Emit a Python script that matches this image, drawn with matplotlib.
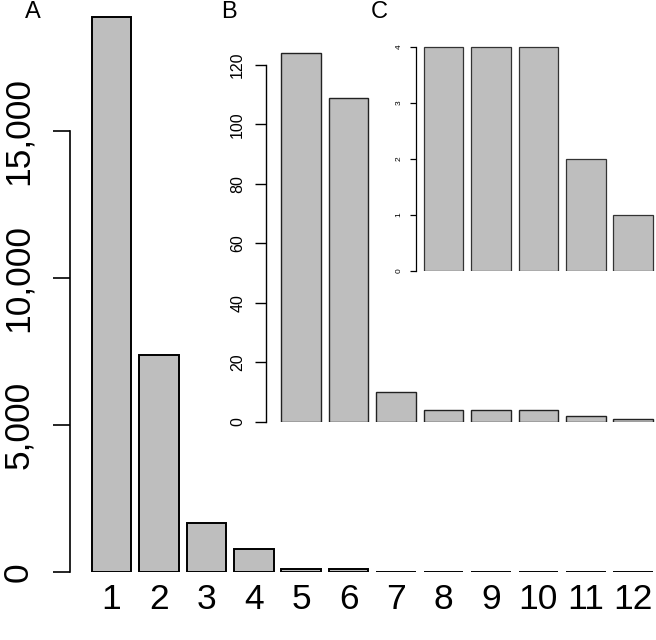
import numpy as np
import matplotlib
matplotlib.use("Agg")
import matplotlib.pyplot as plt

plt.rcParams['font.family'] = ['Liberation Sans', 'DejaVu Sans']

# counts per category
cats = np.arange(1, 13)
counts = [18850, 7380, 1685, 792, 124, 109, 10, 4, 4, 4, 2, 1]

# zoom B (categories 5-12) and C (categories 8-12)
b_start = 5
c_start = 8

main_ticks = [0, 5000, 10000, 15000]
main_ticklabels = ["0", "5,000", "10,000", "15,000"]
b_ticks = [0, 20, 40, 60, 80, 100, 120]
c_ticks = [0, 1, 2, 3, 4]

W, H = 656, 640
fig = plt.figure(figsize=(W / 100, H / 100), dpi=100)

bar_w = 1 / 1.2
face = "#BEBEBE"

# pixel layout (x: 47.43 px per category)
px_per_cat = 47.43
x0_px = 70.0
xlim = (0.125, 0.125 + (654.6 - x0_px) / px_per_cat)
ax_left = x0_px / W
ax_width = (654.6 - x0_px) / W


def make_axes(zero_px, px_per_unit, ytop):
    bottom = (H - zero_px) / H
    height = ytop * px_per_unit / H
    ax = fig.add_axes([ax_left, bottom, ax_width, height])
    ax.set_facecolor("none")
    ax.set_xlim(*xlim)
    ax.set_ylim(0, ytop)
    for s in ["top", "right", "bottom"]:
        ax.spines[s].set_visible(False)
    return ax


# ---- A: main
ax = make_axes(572.3, 441.6 / 15000, 19200)
ax.bar(cats, counts, width=bar_w, color=face, edgecolor="black", linewidth=1.4)
ax.spines["left"].set_bounds(0, 15000)
ax.spines["left"].set_linewidth(1.2)
ax.set_yticks(main_ticks)
ax.set_yticklabels(main_ticklabels, rotation=90, va="center", fontsize=25.5)
ax.tick_params(axis="y", length=12.2, width=1.2, pad=13)
ax.set_xticks(cats)
ax.set_xticklabels([str(c) for c in cats], fontsize=25.5)
ax.tick_params(axis="x", length=0, pad=8)

# ---- B: zoom on 5-12
axb = make_axes(421.7, (421.7 - 65) / 120, 130)
axb.bar(cats[b_start - 1:], counts[b_start - 1:], width=bar_w, color=face,
        edgecolor="#222222", linewidth=1.0)
axb.spines["left"].set_position(("data", xlim[0] + (266 - x0_px) / px_per_cat))
axb.spines["left"].set_bounds(0, 120)
axb.spines["left"].set_linewidth(1.0)
axb.set_yticks(b_ticks)
axb.set_yticklabels([str(t) for t in b_ticks], rotation=90, va="center", fontsize=11.5)
axb.tick_params(axis="y", length=8, width=1.0, pad=7)
axb.set_xticks([])

# ---- C: zoom on 8-12
axc = make_axes(270.7, (270.7 - 46.7) / 4, 4.3)
axc.bar(cats[c_start - 1:], counts[c_start - 1:], width=bar_w, color=face,
        edgecolor="#333333", linewidth=0.9)
axc.spines["left"].set_position(("data", xlim[0] + (416 - x0_px) / px_per_cat))
axc.spines["left"].set_bounds(0, 4)
axc.spines["left"].set_linewidth(0.9)
axc.set_yticks(c_ticks)
axc.set_yticklabels([str(t) for t in c_ticks], rotation=90, va="center", fontsize=6)
axc.tick_params(axis="y", length=4.5, width=0.9, pad=5)
axc.set_xticks([])

# panel letters
for lab, xp in [("A", 33), ("B", 229), ("C", 379)]:
    fig.text(xp / W, 1 - 12 / H, lab, fontsize=17, ha="center", va="center")

fig.savefig("out.png", dpi=100)
